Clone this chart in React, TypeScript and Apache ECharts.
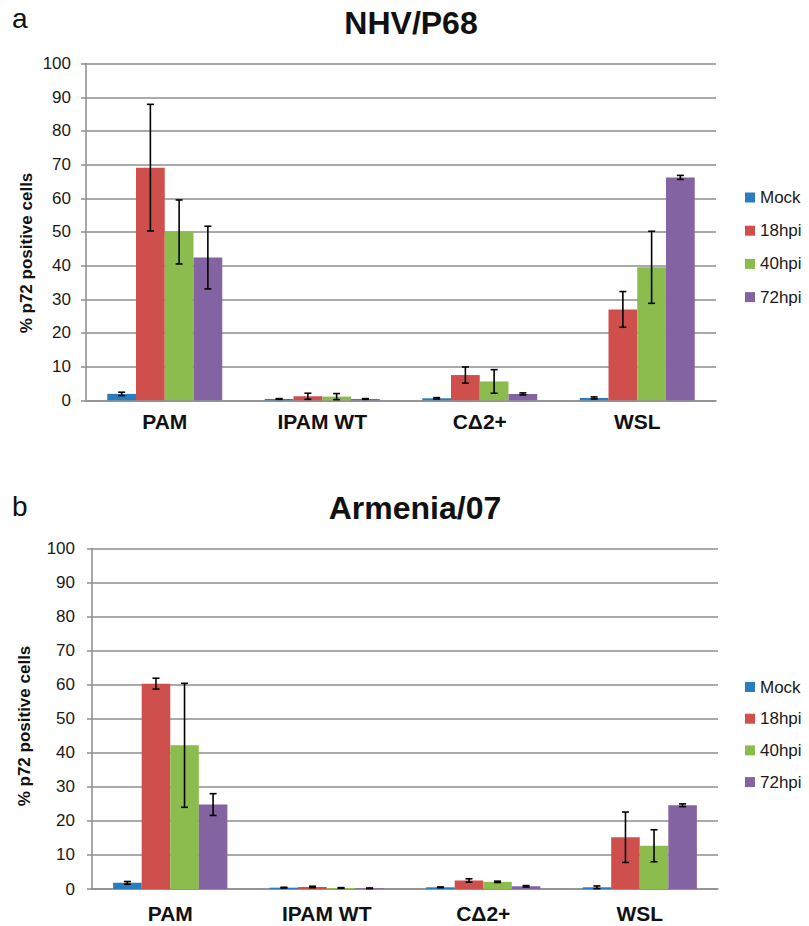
import React, { useEffect, useRef } from "react";
import * as echarts from "echarts";

const categories = ["PAM", "IPAM WT", "CΔ2+", "WSL"];
const seriesNames = ["Mock", "18hpi", "40hpi", "72hpi"];
const colors = ["#2a7cc0", "#cf4f4c", "#8cbb4e", "#8463a3"];
const yTicks = [0, 10, 20, 30, 40, 50, 60, 70, 80, 90, 100];

// Panel a: NHV/P68
const nhvMock = [1.9, 0.4, 0.6, 0.7];
const nhv18 = [69.1, 1.2, 7.5, 27.0];
const nhv40 = [50.0, 1.1, 5.6, 39.5];
const nhv72 = [42.4, 0.4, 1.9, 66.2];
const nhvMockErr = [0.5, 0.1, 0.2, 0.3];
const nhv18Err = [18.8, 0.9, 2.4, 5.3];
const nhv40Err = [9.5, 0.9, 3.5, 10.7];
const nhv72Err = [9.3, 0.1, 0.3, 0.6];

// Panel b: Armenia/07
const armMock = [1.8, 0.4, 0.5, 0.5];
const arm18 = [60.3, 0.6, 2.5, 15.2];
const arm40 = [42.2, 0.3, 2.1, 12.7];
const arm72 = [24.8, 0.2, 0.8, 24.6];
const armMockErr = [0.4, 0.1, 0.1, 0.4];
const arm18Err = [1.6, 0.2, 0.5, 7.4];
const arm40Err = [18.2, 0.1, 0.2, 4.7];
const arm72Err = [3.2, 0.1, 0.2, 0.4];

const FONT = "'Liberation Sans', Arial, Helvetica, sans-serif";
const GRID_COLOR = "#8e8e8e";
const GAP = 0.27;

function errData(vals: number[][], errs: number[][]) {
  const out: number[][] = [];
  vals.forEach((arr, s) =>
    arr.forEach((v, c) => out.push([c, v, errs[s][c], s]))
  );
  return out;
}

function renderErr(params: any, api: any) {
  const cat = api.value(0);
  const val = api.value(1);
  const err = api.value(2);
  const s = api.value(3);
  const bw = api.size([1, 0])[0];
  const barW = (bw * (1 - GAP)) / 4;
  const xc = api.coord([cat, val])[0] + (s - 1.5) * barW;
  const yTop = api.coord([cat, val + err])[1];
  const yBot = api.coord([cat, Math.max(0, val - err)])[1];
  const cap = 3.5;
  const style = { stroke: "#000", lineWidth: 1.6 };
  return {
    type: "group",
    children: [
      { type: "line", shape: { x1: xc, y1: yTop, x2: xc, y2: yBot }, style },
      { type: "line", shape: { x1: xc - cap, y1: yTop, x2: xc + cap, y2: yTop }, style },
      { type: "line", shape: { x1: xc - cap, y1: yBot, x2: xc + cap, y2: yBot }, style },
    ],
  };
}

function axisPair(gridIndex: number, labelMargin: number, yMargin: number) {
  const x = {
    type: "category",
    gridIndex,
    data: categories,
    axisLine: { show: true, lineStyle: { color: GRID_COLOR, width: 1.5 } },
    axisTick: { show: false },
    axisLabel: {
      fontFamily: FONT,
      fontWeight: "bold",
      fontSize: 21,
      color: "#111",
      margin: labelMargin,
    },
  };
  const y = {
    type: "value",
    gridIndex,
    min: 0,
    max: 100,
    interval: 10,
    axisLine: { show: true, lineStyle: { color: GRID_COLOR, width: 1.5 } },
    axisTick: { show: true, length: 5, lineStyle: { color: GRID_COLOR, width: 1.5 } },
    axisLabel: {
      fontFamily: FONT,
      fontSize: 17,
      color: "#1a1a1a",
      margin: yMargin,
      formatter: (v: number) => (yTicks.includes(v) ? String(v) : ""),
    },
    splitLine: { show: true, lineStyle: { color: GRID_COLOR, width: 1.5 } },
  };
  return { x, y };
}

export default function App() {
  const ref = useRef<HTMLDivElement>(null);
  useEffect(() => {
    if (!ref.current) return;
    const chart = echarts.init(ref.current, null, { renderer: "svg" });
    const a = axisPair(0, 11, 15);
    const b = axisPair(1, 14, 17);
    const panelA = [nhvMock, nhv18, nhv40, nhv72];
    const panelB = [armMock, arm18, arm40, arm72];
    const barSeries: any[] = [];
    [panelA, panelB].forEach((panel, p) => {
      panel.forEach((vals, s) => {
        barSeries.push({
          type: "bar",
          name: seriesNames[s],
          xAxisIndex: p,
          yAxisIndex: p,
          data: vals,
          barGap: "0%",
          barCategoryGap: GAP * 100 + "%",
          itemStyle: { color: colors[s] },
          z: 2,
        });
      });
    });
    const legendCommon = {
      orient: "vertical",
      left: 745,
      padding: 0,
      itemWidth: 10,
      itemHeight: 10,
      icon: "rect",
      data: seriesNames,
      textStyle: { fontFamily: FONT, fontSize: 17, color: "#1a1a1a", lineHeight: 17 },
    };
    const option: any = {
      animation: false,
      backgroundColor: "#fff",
      grid: [
        { left: 86, right: 93, top: 63.6, bottom: 525.7 },
        { left: 92, right: 91, top: 548.5, bottom: 37 },
      ],
      xAxis: [a.x, b.x],
      yAxis: [a.y, b.y],
      legend: [
        { ...legendCommon, top: 189, itemGap: 16.2 },
        { ...legendCommon, top: 678.5, itemGap: 14.7 },
      ],
      series: [
        ...barSeries,
        {
          type: "custom",
          name: "err-a",
          xAxisIndex: 0,
          yAxisIndex: 0,
          renderItem: renderErr,
          data: errData(panelA, [nhvMockErr, nhv18Err, nhv40Err, nhv72Err]),
          encode: { x: 0, y: 1 },
          clip: false,
          z: 5,
        },
        {
          type: "custom",
          name: "err-b",
          xAxisIndex: 1,
          yAxisIndex: 1,
          renderItem: renderErr,
          data: errData(panelB, [armMockErr, arm18Err, arm40Err, arm72Err]),
          encode: { x: 0, y: 1 },
          clip: false,
          z: 5,
        },
      ],
      graphic: [
        {
          type: "text",
          left: 12,
          top: 4,
          style: { text: "a", font: `28px ${FONT}`, fill: "#111" },
        },
        {
          type: "text",
          left: 12,
          top: 492,
          style: { text: "b", font: `28px ${FONT}`, fill: "#111" },
        },
        {
          type: "text",
          x: 411,
          y: 23,
          style: {
            text: "NHV/P68",
            font: `bold 32px ${FONT}`,
            fill: "#111",
            align: "center",
            verticalAlign: "middle",
          },
        },
        {
          type: "text",
          x: 415,
          y: 508,
          style: {
            text: "Armenia/07",
            font: `bold 32px ${FONT}`,
            fill: "#111",
            align: "center",
            verticalAlign: "middle",
          },
        },
        {
          type: "text",
          x: 26,
          y: 253,
          rotation: Math.PI / 2,
          style: {
            text: "% p72 positive cells",
            font: `bold 17px ${FONT}`,
            fill: "#111",
            align: "center",
            verticalAlign: "middle",
          },
        },
        {
          type: "text",
          x: 24,
          y: 726,
          rotation: Math.PI / 2,
          style: {
            text: "% p72 positive cells",
            font: `bold 17px ${FONT}`,
            fill: "#111",
            align: "center",
            verticalAlign: "middle",
          },
        },
      ],
    };
    chart.setOption(option);
    return () => chart.dispose();
  }, []);
  return (
    <div
      ref={ref}
      style={{ position: "fixed", left: 0, top: 0, width: 809, height: 926, background: "#fff" }}
    />
  );
}
